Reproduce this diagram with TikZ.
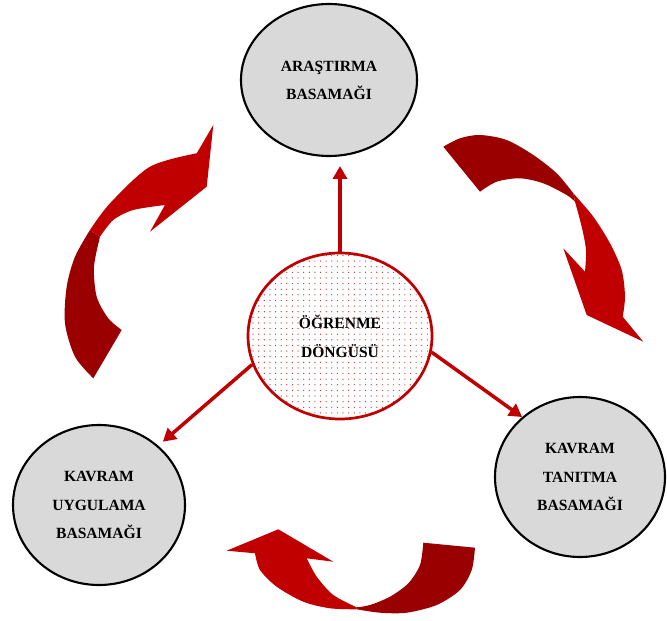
\documentclass[tikz,border=0pt]{standalone}
\usepackage{fontspec}
\setmainfont{Liberation Serif}
\usetikzlibrary{shapes,arrows.meta,patterns.meta}
\definecolor{arrowlight}{HTML}{C00000}
\definecolor{arrowdark}{HTML}{9B0000}
\definecolor{stagegray}{HTML}{D9D9D9}
\definecolor{dotred}{HTML}{D03030}

\begin{document}
\begin{tikzpicture}[
    x=0.03cm, y=-0.03cm,
    stage/.style={ellipse, draw=black, line width=1.8pt, fill=stagegray, inner sep=0pt,
        align=center, font=\fontsize{13.3}{24}\selectfont\bfseries},
    hub/.style={ellipse, draw=arrowlight, line width=2.3pt, fill=white, inner sep=0pt,
        pattern={Dots[distance=4.8pt, radius=0.55pt]}, pattern color=dotred,
        align=center, font=\fontsize{13.3}{25}\selectfont\bfseries},
    link/.style={draw=arrowlight, line width=3pt, -{Triangle[length=11pt, width=12pt]}}
]
\useasboundingbox (0,0) rectangle (667,621);

% curved arrows of the cycle
\fill[arrowdark] plot[smooth] coordinates {(90,230) (75,256.7) (66.7,286.7) (65,323.3) (75,356.7) (93.3,378.3)}
    -- plot[smooth] coordinates {(121.7,330) (108.3,318.3) (96.7,296.7) (94,266.7) (100,236.7)} -- cycle;
\fill[arrowlight] plot[smooth] coordinates {(90,230) (110,203.3) (150,166.7) (196.7,153.3)}
    -- (213.3,125) -- (206.7,186.7) -- (150,231.7)
    -- plot[smooth] coordinates {(165,205) (133.3,210) (113.3,220) (100,236.7)} -- cycle;

\fill[arrowdark] plot[smooth] coordinates {(443.3,146.7) (460,138.3) (480,135) (506.7,140) (533.3,155) (556.7,173.3) (573.3,193.3)}
    -- plot[smooth] coordinates {(575,201.7) (566.7,195) (543.3,183.3) (520,178.3) (496.7,181.7) (480,191.7)} -- cycle;
\fill[arrowlight] plot[smooth] coordinates {(573.3,193.3) (593.3,216.7) (610,243.3) (621.7,270) (625,296.7) (622.7,316.7)}
    -- (643.3,341.7) -- (586.7,315) -- (563.3,248.3)
    -- plot[smooth] coordinates {(585,271.7) (586,250) (581.7,226.7) (575,201.7)} -- cycle;

\fill[arrowdark] plot[smooth] coordinates {(475,547.7) (471.7,570) (460,590) (436.7,605) (406.7,612.7) (380,612.7) (356.7,609.3)}
    -- plot[smooth] coordinates {(356.7,607.3) (370,605) (390,596.7) (408.3,583.3) (420,565) (423.3,542.7)} -- cycle;
\fill[arrowlight] plot[smooth] coordinates {(356.7,609.3) (330,608.3) (303.3,601.7) (276.7,586.7) (260,570) (255,553.3)}
    -- (226.7,550.7) -- (278.3,529.3) -- (333.3,561.7)
    -- plot[smooth] coordinates {(306.7,558.3) (316.7,576.7) (333.3,595) (356.7,607.3)} -- cycle;

% stages
\node[hub, minimum width=5.52cm, minimum height=4.98cm] (hub) at (340,336) {ÖĞRENME\\DÖNGÜSÜ};
\node[stage, minimum width=5.28cm, minimum height=4.56cm] (arastirma) at (329,80) {ARAŞTIRMA\\BASAMAĞI};
\node[stage, minimum width=5.1cm, minimum height=4.8cm] (tanitma) at (580,477) {KAVRAM\\TANITMA\\BASAMAĞI};
\node[stage, minimum width=5.16cm, minimum height=4.8cm] (uygulama) at (99,505) {KAVRAM\\UYGULAMA\\BASAMAĞI};

\draw[link, shorten >=0.27cm] (hub.north) -- (hub.north |- arastirma.south);
\draw[link] (hub.-10) -- (tanitma.134);
\draw[link, shorten >=0.18cm] (hub.198) -- (uygulama.45);
\end{tikzpicture}
\end{document}
